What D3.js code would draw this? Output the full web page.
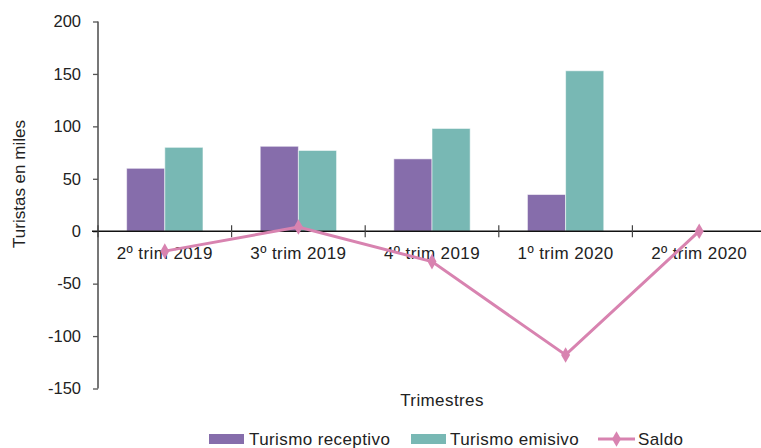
<!DOCTYPE html>
<html>
<head>
<meta charset="utf-8">
<script src="https://cdn.jsdelivr.net/npm/d3@7"></script>
<style>
  html, body { margin: 0; padding: 0; background: #fff; }
  svg { display: block; font-family: "Liberation Sans", Arial, Helvetica, sans-serif; }
</style>
</head>
<body>
<svg id="chart" width="761" height="448"></svg>
<script>
const categories = ["2º trim 2019", "3º trim 2019", "4º trim 2019", "1º trim 2020", "2º trim 2020"];
const receptivo = [60, 81, 69, 35, 0];
const emisivo = [80, 77, 98, 153, 0];
const saldo = [-19, 4, -29, -118, 0];
const yTicks = [-150, -100, -50, 0, 50, 100, 150, 200];
const seriesNames = ["Turismo receptivo", "Turismo emisivo", "Saldo"];

const colors = { receptivo: "#866dab", emisivo: "#78b8b4", saldo: "#d883b0" };

const svg = d3.select("#chart");
const x = d3.scaleBand().domain(categories).range([98, 766]).paddingInner(0).paddingOuter(0);
const y = d3.scaleLinear().domain([-150, 200]).range([388.5, 21.5]);
const xs = d3.scaleBand().domain(["r", "e"]).range([0, x.bandwidth()]).paddingInner(0).paddingOuter(0.75);

// bars
const g = svg.append("g");
categories.forEach((c, i) => {
  [["r", receptivo[i], colors.receptivo], ["e", emisivo[i], colors.emisivo]].forEach(([k, v, col]) => {
    if (v === 0) return;
    g.append("rect")
      .attr("x", x(c) + xs(k))
      .attr("y", y(Math.max(0, v)))
      .attr("width", xs.bandwidth())
      .attr("height", Math.abs(y(v) - y(0)))
      .attr("fill", col)
      .attr("stroke", "rgba(255,255,255,0.55)")
      .attr("stroke-width", 1);
  });
});

// y axis
const yAxis = svg.append("g").attr("transform", "translate(98,0)")
  .call(d3.axisLeft(y).tickValues(yTicks).tickSize(5).tickPadding(12).tickFormat(d => String(d)));
yAxis.select(".domain").attr("stroke", "#777").attr("stroke-width", 2).attr("d", `M0,${y(200)}V${y(-150)}`);
yAxis.selectAll(".tick line").attr("stroke", "#555").attr("stroke-width", 1.3);
yAxis.selectAll(".tick text").attr("font-size", 16.5).attr("fill", "#222")
  .attr("font-family", "Liberation Sans, Arial, sans-serif");

// x axis at zero
const y0 = y(0);
svg.append("line").attr("x1", 92).attr("x2", 761).attr("y1", y0).attr("y2", y0)
  .attr("stroke", "#111").attr("stroke-width", 1.4);
categories.forEach(c => {
  const xx = x(c);
  svg.append("line").attr("x1", xx).attr("x2", xx).attr("y1", y0 - 6).attr("y2", y0 + 6)
    .attr("stroke", "#444").attr("stroke-width", 1.2);
  svg.append("text").attr("x", xx + x.bandwidth() / 2).attr("y", y0 + 28)
    .attr("text-anchor", "middle").attr("font-size", 17).attr("letter-spacing", 0.4)
    .attr("fill", "#222").text(c);
});

// saldo line
const line = d3.line().x((d, i) => x(categories[i]) + x.bandwidth() / 2).y(d => y(d));
svg.append("path").datum(saldo).attr("d", line).attr("fill", "none")
  .attr("stroke", colors.saldo).attr("stroke-width", 3);
const diamond = d3.symbol().type(d3.symbolDiamond).size(70);
saldo.forEach((v, i) => {
  svg.append("path").attr("d", diamond)
    .attr("transform", `translate(${x(categories[i]) + x.bandwidth() / 2},${y(v)})`)
    .attr("fill", colors.saldo);
});

// axis titles
svg.append("text").attr("transform", "translate(25,184) rotate(-90)")
  .attr("text-anchor", "middle").attr("font-size", 17).attr("fill", "#222").text("Turistas en miles");
svg.append("text").attr("x", 442).attr("y", 406)
  .attr("text-anchor", "middle").attr("font-size", 17).attr("letter-spacing", 0.4)
  .attr("fill", "#222").text("Trimestres");

// legend
const ly = 439;
const leg = svg.append("g").attr("font-size", 17).attr("letter-spacing", 0.4).attr("fill", "#222");
leg.append("rect").attr("x", 209).attr("y", ly - 5).attr("width", 35).attr("height", 10).attr("fill", colors.receptivo);
leg.append("text").attr("x", 249).attr("y", ly + 6).text(seriesNames[0]);
leg.append("rect").attr("x", 411).attr("y", ly - 5).attr("width", 35).attr("height", 10).attr("fill", colors.emisivo);
leg.append("text").attr("x", 450).attr("y", ly + 6).text(seriesNames[1]);
leg.append("line").attr("x1", 598).attr("x2", 635).attr("y1", ly).attr("y2", ly)
  .attr("stroke", colors.saldo).attr("stroke-width", 3);
leg.append("path").attr("d", diamond).attr("transform", `translate(616.5,${ly})`).attr("fill", colors.saldo);
leg.append("text").attr("x", 638).attr("y", ly + 6).text(seriesNames[2]);
</script>
</body>
</html>
